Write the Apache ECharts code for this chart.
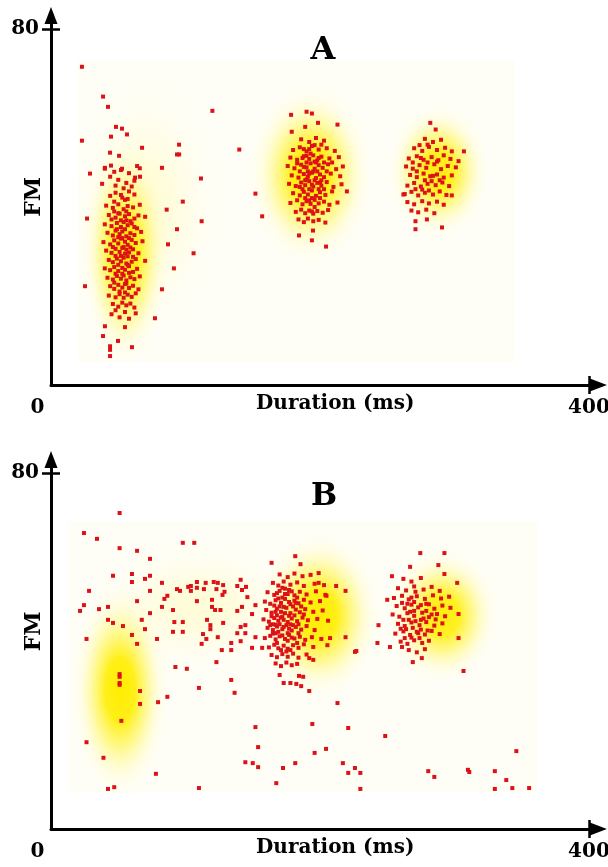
<!DOCTYPE html>
<html><head><meta charset="utf-8">
<script src="https://cdn.jsdelivr.net/npm/echarts@6/dist/echarts.min.js"></script>
<style>html,body{margin:0;padding:0;background:#fff}#c{width:608px;height:867px}</style>
</head><body><div id="c"></div>
<script>
// ---------- data ----------
const xTickValues = [400];
const xLabelValues = [0, 400];
const yTickValues = [80];
const panelNames = ['A', 'B'];
const xName = 'Duration (ms)';
const yName = 'FM';

// Panel A red points (Duration ms, FM)
const aCluster1 = [
[44,42.5],[48,43.2],[53,42.1],[58,43.5],[62,42.8],[47,41.2],[55,41.6],
[41,40.3],[46,39.8],[50,40.6],[54,39.5],[57,40.2],[61,39.9],[66,40.5],
[43,38.2],[48,37.6],[51,38.5],[55,37.9],[58,38.4],[62,37.4],[65,38.1],[70,37.8],
[40,36.1],[45,35.7],[49,36.4],[52,35.5],[54,36.6],[57,35.9],[60,36.3],[64,35.2],
[42,34.2],[46,33.6],[48,34.7],[51,33.9],[53,34.5],[56,33.4],[59,34.1],[62,33.7],[67,34.4],
[39,32.1],[44,31.6],[47,32.5],[50,31.8],[52,32.9],[55,32.2],[57,31.5],[60,32.6],[63,31.9],[68,32.3],
[41,30.2],[45,29.7],[48,30.6],[51,29.9],[53,30.8],[55,29.5],[56,30.4],[58,29.8],[61,30.5],[65,29.6],
[43,28.1],[46,27.6],[49,28.4],[52,27.8],[54,28.6],[56,27.3],[57,28.9],[60,27.7],[63,28.3],[70,27.9],
[40,26.2],[44,25.8],[47,26.5],[50,25.6],[53,26.3],[55,25.9],[58,26.7],[61,25.4],[64,26.1],
[42,24.1],[46,23.7],[49,24.5],[52,23.9],[54,24.6],[56,23.5],[59,24.2],[62,23.8],[66,24.4],
[44,22.2],[47,21.6],[50,22.5],[53,21.9],[55,22.7],[58,21.8],[61,22.3],[65,21.5],
[43,20.1],[48,19.7],[51,20.4],[54,19.6],[57,20.3],[60,19.8],[63,20.6],
[46,18.2],[50,17.6],[53,18.5],[56,17.9],[59,18.3],[62,17.4],
[40,48.6],[44,46.8],[47,47.9],[50,46.1],[52,48.3],[56,45.4],[58,47.6],[62,45.9],[64,49.2],[66,48.7],[48,44.8],[54,44.2],[60,44.6],[38,45.2],
[45,15.9],[51,15.2],[55,16.4],[58,14.9],[63,16.1],[48,16.8],
[47,39],[52,37],[56,39],[59,36.8],[49,35],[55,35],[58,33],[50,33.2],[54,31],[48,29],[52,29],[57,27],[50,27],[53,25],[48,25],
[56,22.8],[51,21],[59,30.9],[46,31],[61,28.8],[53,33],[56,37],[50,38.6],[45,37.2],[62,35.5],[58,25.2],[47,23],[55,20.8],[52,42.7],[57,41.8]
];
const aCluster2 = [
[186,55.2],[192,54.6],[197,55.5],[203,54.9],
[180,52.8],[185,53.4],[190,52.5],[194,53.7],[199,52.9],[205,53.2],[211,52.6],
[178,51.1],[183,50.6],[188,51.4],[192,50.8],[195,51.6],[198,50.5],[201,51.3],[207,50.9],[214,51.2],
[176,49.2],[181,48.7],[186,49.5],[190,48.9],[193,49.8],[196,48.6],[199,49.4],[202,48.8],[206,49.6],[212,48.5],[217,49.1],
[179,47.1],[184,46.6],[188,47.4],[191,46.8],[194,47.7],[197,46.5],[200,47.3],[203,46.7],[208,47.5],[215,46.9],
[177,45.2],[182,44.7],[186,45.5],[189,44.9],[192,45.8],[195,44.6],[198,45.4],[201,44.8],[205,45.6],[210,44.5],[216,45.1],
[180,43.1],[185,42.6],[188,43.4],[191,42.8],[194,43.7],[197,42.5],[200,43.3],[204,42.7],[209,43.5],
[178,40.9],[183,41.5],[187,40.6],[190,41.3],[193,40.7],[196,41.6],[199,40.8],[203,41.2],[207,40.5],[213,41],
[182,38.9],[186,39.4],[189,38.6],[192,39.2],[195,38.5],[198,39.1],[202,38.7],[206,39.3],
[184,37.2],[188,36.6],[191,37.4],[195,36.8],[199,37.1],[204,36.5],
[193,52],[190,50],[195,48],[192,44],[196,46],[194,42],[191,48],[197,50],[189,46],[200,45.5],
[188,53],[192,53],[196,53.9],[201,54],[187,51],[190,51.5],[196,50.2],[199,51],[203,50],[185,48],[188,49],[192,47.5],[198,48],[201,46],
[187,44],[190,46.2],[194,45],[199,44],[203,44],[189,42],[192,41.5],[196,40],[200,42],[194,39],[185,44.5],[205,48],[183,49.8],[209,50]
];
const aCluster3 = [
[278,55.3],[284,54.6],[290,55.1],
[270,53.2],[276,52.6],[281,53.5],[287,52.8],[293,53.3],[298,52.5],
[266,50.9],[272,51.4],[277,50.6],[283,51.2],[288,50.5],[292,51.6],[297,50.8],
[264,49.1],[269,48.6],[274,49.4],[279,48.8],[285,49.6],[290,48.5],[295,49.2],[301,48.9],
[267,47.2],[272,46.7],[277,47.5],[282,46.9],[287,47.3],[292,46.6],[298,47.1],
[265,44.8],[270,45.4],[275,44.6],[280,45.2],[286,44.9],[291,45.5],[296,44.7],
[263,42.9],[268,43.4],[273,42.6],[278,43.2],[284,42.8],[289,43.5],[294,42.7],
[265,41.1],[270,40.6],[276,41.3],[281,40.8],[287,41.2],[292,40.5],
[268,39.2],[273,38.8],[279,39.4],[285,38.6],
[275,51],[280,50],[284,47],[278,46],[272,48],[283,45.8],[287,50.2],[276,43.9],[281,43.7],[271,44],[289,46],[274,53.9],[280,54],[269,50]
];
const aScatter = [
[23,71.5],[38.7,64.8],[42.4,62.5],[48.3,58],[52.8,57.6],[56.5,56.3],[44.6,55.8],[23,54.9],[67.7,53.3],[43.9,52.2],
[50.6,51.5],[93.7,51.8],[95.3,51.8],[40.1,48.8],[44.6,49.3],[52.8,48.6],[82.5,48.8],[29,47.5],[62.5,46.6],[66.2,46.8],
[120,61.6],[95.2,54],[140,52.9],[111.5,46.4],[98,41.2],[86,39.4],[112,36.8],[93.7,35],[87,31.6],[106,29.6],
[91.4,26.2],[82.5,21.5],[77.3,15],[25.3,22.2],[26.8,37.4],[40.1,13.2],[55,13],[38.7,11],[49.8,9.9],[43.9,8.7],
[43.9,7.9],[60.2,8.5],[43.9,6.5],[152,43],[157,37.9],[178.5,60.7],[184.4,33.6],
[190,61.4],[194,61],[198.5,58.9],[213,58.5],[189,58],[179,56.9],[194,32.5],[204.5,31.1],[194.8,34.7],[220,43.5],
[282,58.9],[286,57.4],[307,52.5],[303,50.3],[298,42.6],[271,36.8],[271,35],[279.5,37.2],[290.7,35.4],[262,42.8]
];

// Panel B red points
const bCluster2 = [
[170,57.2],[176,56.6],[181,57.4],[187,56.8],[193,57.1],
[165,55.3],[169,54.7],[173,55.6],[178,54.9],[183,55.4],[188,54.6],[196,55.1],[203,54.8],
[161,53.2],[166,52.6],[170,53.5],[174,52.8],[177,53.7],[181,52.5],[185,53.3],[190,52.7],[197,53.4],[204,52.6],
[159,51.1],[163,50.6],[167,51.4],[171,50.8],[174,51.7],[178,50.5],[181,51.3],[184,50.7],[188,51.5],[193,50.9],[200,51.2],
[160,49.2],[164,48.6],[168,49.5],[171,48.8],[175,49.7],[178,48.5],[182,49.3],[185,48.7],[189,49.4],[195,48.8],[202,49.1],
[158,47.1],[162,46.6],[166,47.4],[169,46.8],[172,47.7],[176,46.5],[179,47.3],[183,46.7],[187,47.5],[191,46.9],[198,47.2],[206,46.8],
[161,45.2],[165,44.7],[168,45.5],[172,44.9],[175,45.8],[179,44.6],[182,45.4],[186,44.8],[190,45.6],[196,44.7],
[159,42.9],[163,43.4],[167,42.6],[170,43.3],[174,42.7],[177,43.6],[181,42.8],[185,43.2],[189,42.5],[194,43.1],[201,42.7],
[162,40.8],[166,41.4],[169,40.6],[173,41.2],[176,40.5],[180,41.3],[184,40.7],[188,41.5],[195,40.9],
[164,39.1],[168,38.6],[172,39.3],[176,38.7],[180,39.4],[184,38.5],[190,39.2],
[167,37.2],[171,36.6],[175,37.4],[179,36.8],[183,37.1],
[170,50],[173,47],[176,44],[168,48],[172,52],[178,46],[165,46],[174,54],[180,50],[167,44],
[168,53],[172,54.2],[176,52.8],[179,53.4],[183,52],[166,50.2],[169,51.8],[173,49.9],[177,51],[182,50.8],[186,50],[164,47.8],
[167,48.8],[171,47.5],[174,48.5],[177,47.9],[181,48],[184,46],[188,48.2],[163,45.8],[167,45.9],[170,46],[173,45.4],[177,45],
[180,45.8],[184,44],[165,43.9],[169,44.3],[172,43.5],[176,42.3],[179,43],[183,41.8],[168,41.8],[171,40.2],[175,39.9],[178,40.2]
];
const bCluster3 = [
[262,56.2],[268,55.6],[275,56.4],
[258,54.1],[264,53.6],[270,54.5],[277,53.8],[283,54.4],[289,53.5],
[255,51.9],[261,52.4],[266,51.6],[272,52.3],[278,51.7],[284,52.5],[290,51.8],[296,52.2],
[257,50.1],[263,49.6],[268,50.4],[273,49.8],[279,50.6],[285,49.5],[291,50.2],[297,49.7],
[254,48.2],[259,47.7],[265,48.5],[270,47.9],[276,48.6],[281,47.6],[287,48.3],[293,47.8],
[258,46.1],[263,45.6],[268,46.4],[274,45.8],[279,46.5],[285,45.7],[291,46.2],
[256,43.9],[262,44.4],[267,43.6],[272,44.3],[278,43.7],[283,44.5],[289,43.8],
[260,42.1],[265,41.6],[270,42.4],[276,41.8],[281,42.3],
[266,40.2],[272,39.7],[278,40.4],
[270,49],[275,47],[268,52],[273,44],[279,49],[266,47],
[261,50.8],[265,50.6],[270,51],[275,50.3],[281,50.5],[262,47],[267,48.8],[271,46.7],[277,47.3],[283,48.2],
[260,45],[264,44.9],[269,45.2],[275,44.8],[280,44.6],[286,47.1],[263,42.9],[268,43],[274,42.9],[271,53.3]
];
const bScatter = [
[51,71],[24.5,66.5],[34.2,65.2],[98,64.3],[106.5,64.3],[51,63.1],[64,62.5],[73.6,60.7],[46.1,56.9],[60.2,57.3],
[60.2,55.5],[69.9,56.2],[73.6,56.9],[28.3,53.5],[73.6,53.5],[82.5,55.3],[93.7,53.9],[95.9,53.5],[102,54.4],[104,54.6],
[104,53.5],[108.5,55.5],[108.5,54.2],[113.7,53.9],[115,55.3],[121,55.5],[124,55.3],[123,53.9],[128,54.8],[129,53.3],
[141,56],[138.5,54.6],[142,53.7],[145,54.4],[146,52.1],[127.5,52.6],[86.5,52.4],[84.3,51.7],[64,51.2],[108.5,51.2],
[119.7,51.5],[21.6,49],[24.5,50.3],[35.7,49.4],[42.4,49.9],[82.5,49.9],[90.7,49.2],[119.7,49.9],[122,49.2],[126,49.2],
[138.5,49],[142,49.9],[152,50.3],[149.5,48.3],[73.6,48.5],[42.4,47],[46.1,46.3],[53.5,45.6],[67.5,47],[91.7,46.5],
[98,46.5],[90.7,44.3],[98,44.3],[116,47],[118.5,45.8],[128,46.3],[118.5,44.9],[113,43.8],[115.5,42.7],[112,41.6],
[124,43.1],[134,41.8],[138.5,44],[141,45.4],[144.5,45.8],[144.5,44],[152,43.1],[149.5,40.7],[141,42.2],[127,40.2],
[134,40.2],[64,41.6],[60.2,43.6],[78.8,42.7],[69.9,44.9],[26.4,42.7],[123,37.5],[92.5,36.4],[101,36],[134,33.5],
[136.5,30.6],[110,31.7],[51,34.8],[51,34.2],[51,32.8],[51,32.4],[66.2,31],[66.2,28.1],[52.3,24.3],[79.6,28.5],
[86.5,29.7],[26.4,19.5],[39,16],[78,12.4],[42.4,9],[47,9.4],[110,9.2],[152,22.9],[154,18.4],[144.5,15],
[150,14.8],[154,13.9],[172.5,13.7],[181.6,14.8],[167.5,10.3],
[213,28.3],[194.3,23.6],[221,22.7],[248.5,20.9],[196,17.1],[204.5,18],[217,14.8],[221,12.6],[226,13.7],[230,12.6],
[230,9],[226,39.8],[219,43.1],[212,54.6],[219,53.5],[306.7,35.5],[346,17.5],[280.5,13],[285,11.7],[310,13.3],
[311,12.8],[330,13],[338.5,11],[330,9],[343,9.2],[355.5,9.2],
[164,59.8],[181.6,61.3],[185.5,59.5],[199,57.5],[157,40.7],[227,40],[170,34.6],[173,32.8],[178,32.8],[182.4,32.6],
[186,32.1],[192,31],[184.4,34.4],[187.5,34.2],[192,38.4],[195,38],[205.5,41.3],[207.5,42.9],[199,55.3],[204.8,52.4],
[274.6,62],[292.5,62],[288,59.3],[292.5,57.3],[267,58.9],[253.5,56.8],[302,55.3],[250,51.5],[243.5,45.8],[242.7,41.8],
[252,40.9],[261,40.9],[269,37.5],[275.7,38.4],[303,48.3],[303,42.9]
];

// density clouds: centre ms, centre FM, radius ms, radius FM, relative density
const aDensity = [[55,29.5,32,25,1.0],[193,47.3,46,20,1.0],[288,48,38,15,0.95],[70,40,60,30,0.12]];
const bDensity = [[51.4,31.2,36,24,1.0],[199,48,46,18.5,1.0],[291,48,42,15,0.95],[110,50,80,15,0.12]];
// extent of the density map: ms min, FM min, ms max, FM max
const aExtent = [[20,5,345,73]];
const bExtent = [[13,8,362,69]];

// ---------- chart ----------
const FONT = 'DejaVu Serif';
const txt = {fontFamily: FONT, fontWeight: 'bold', color: '#000', fontSize: 20};
const X_MAX = 407, Y_MAX = 83;
const lineStyle = {color: '#000', width: 3};
const tickStyle = {color: '#000', width: 2.5};

function xAxes(g) {
  return [{
    type: 'value', gridIndex: g, min: 0, max: X_MAX, position: 'bottom',
    name: xName, nameLocation: 'middle', nameGap: 9, nameMoveOverlap: false,
    nameTextStyle: Object.assign({}, txt, {padding: [0, 0, 0, 21]}),
    axisLine: {show: true, onZero: false, symbol: ['none', 'triangle'], symbolSize: [13, 17], lineStyle},
    axisTick: {show: true, customValues: xTickValues, length: 9, lineStyle: tickStyle},
    axisLabel: {show: true, customValues: xLabelValues, margin: 13,
      formatter: v => v === 0 ? '{z|0}' : '{n|' + v + '}',
      rich: {z: Object.assign({}, txt, {padding: [0, 27, 0, 0]}), n: Object.assign({}, txt)}},
    splitLine: {show: false}
  }, {
    type: 'value', gridIndex: g, min: 0, max: X_MAX, position: 'bottom',
    axisLine: {show: false},
    axisTick: {show: true, inside: true, customValues: xTickValues, length: 9, lineStyle: tickStyle},
    axisLabel: {show: false}, splitLine: {show: false}
  }];
}
function yAxes(g, shift) {
  return [{
    type: 'value', gridIndex: g, min: 0, max: Y_MAX, position: 'left',
    name: yName, nameLocation: 'middle', nameGap: 6, nameRotate: 90, nameMoveOverlap: false,
    nameTextStyle: Object.assign({}, txt, {fontSize: 22, padding: [0, 0, 0, shift]}),
    axisLine: {show: true, onZero: false, symbol: ['none', 'triangle'], symbolSize: [13, 17], lineStyle},
    axisTick: {show: true, customValues: yTickValues, length: 9, lineStyle: tickStyle},
    axisLabel: Object.assign({show: true, customValues: yTickValues, margin: 12}, txt),
    splitLine: {show: false}
  }, {
    type: 'value', gridIndex: g, min: 0, max: Y_MAX, position: 'left',
    axisLine: {show: false},
    axisTick: {show: true, inside: true, customValues: yTickValues, length: 9, lineStyle: tickStyle},
    axisLabel: {show: false}, splitLine: {show: false}
  }];
}

function extentRender(params, api) {
  const p0 = api.coord([api.value(0), api.value(3)]);
  const p1 = api.coord([api.value(2), api.value(1)]);
  return {type: 'rect', silent: true,
    shape: {x: p0[0], y: p0[1], width: p1[0] - p0[0], height: p1[1] - p0[1]},
    style: {fill: 'rgba(255,248,200,0.16)'}};
}
function densityRender(params, api) {
  const c = api.coord([api.value(0), api.value(1)]);
  const s = api.size([api.value(2), api.value(3)]);
  const w = api.value(4);
  const R = 100;
  return {type: 'circle', silent: true,
    shape: {cx: 0, cy: 0, r: R},
    x: c[0], y: c[1], scaleX: s[0] / R, scaleY: s[1] / R,
    style: {fill: new echarts.graphic.RadialGradient(0.5, 0.5, 0.5, [
      {offset: 0, color: 'rgba(255,236,0,' + w + ')'},
      {offset: 0.3, color: 'rgba(255,238,0,' + (0.9 * w) + ')'},
      {offset: 0.55, color: 'rgba(255,244,60,' + (0.55 * w) + ')'},
      {offset: 0.8, color: 'rgba(255,250,160,' + (0.22 * w) + ')'},
      {offset: 1, color: 'rgba(255,252,210,0)'}
    ])}};
}

function panelSeries(xi, yi, extent, density, pointSets) {
  const out = [
    {type: 'custom', xAxisIndex: xi, yAxisIndex: yi, renderItem: extentRender, data: extent, z: 1, clip: false},
    {type: 'custom', xAxisIndex: xi, yAxisIndex: yi, renderItem: densityRender, data: density, z: 2, clip: false}
  ];
  pointSets.forEach(d => out.push({
    type: 'scatter', xAxisIndex: xi, yAxisIndex: yi, data: d, z: 5,
    symbol: 'rect', symbolSize: 4, itemStyle: {color: '#dc1218', opacity: 1}, silent: true
  }));
  return out;
}

const chart = echarts.init(document.getElementById('c'), null, {renderer: 'canvas'});
chart.setOption({
  animation: false,
  backgroundColor: '#fff',
  grid: [
    {left: 51, top: 15.6, width: 547.4, height: 369.4, outerBoundsMode: 'none', containLabel: false},
    {left: 51, top: 459.6, width: 547.4, height: 369.4, outerBoundsMode: 'none', containLabel: false}
  ],
  xAxis: xAxes(0).concat(xAxes(1)),
  yAxis: yAxes(0, 7).concat(yAxes(1, 26)),
  graphic: [
    {type: 'text', x: 323, y: 51, style: Object.assign({text: panelNames[0], align: 'center', verticalAlign: 'middle'}, {font: 'bold 32px "DejaVu Serif"', fill: '#000'})},
    {type: 'text', x: 324, y: 497, style: Object.assign({text: panelNames[1], align: 'center', verticalAlign: 'middle'}, {font: 'bold 31px "DejaVu Serif"', fill: '#000'})}
  ],
  series: [].concat(
    panelSeries(0, 0, aExtent, aDensity, [aCluster1, aCluster2, aCluster3, aScatter]),
    panelSeries(2, 2, bExtent, bDensity, [bCluster2, bCluster3, bScatter])
  )
});
</script></body></html>
